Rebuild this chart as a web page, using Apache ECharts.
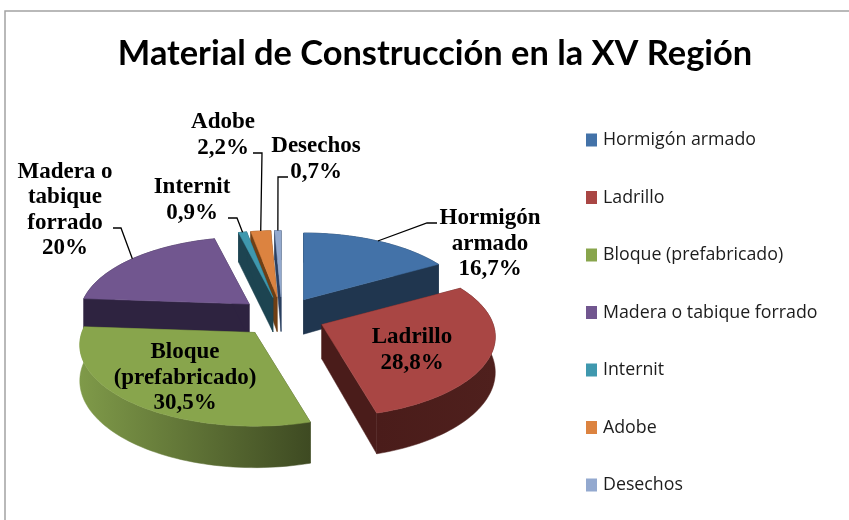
<!DOCTYPE html>
<html>
<head>
<meta charset="utf-8">
<script src="https://cdn.jsdelivr.net/npm/echarts@6/dist/echarts.min.js"></script>
<style>
  body { margin: 0; background: #fff; }
  #chart { width: 849px; height: 520px; }
</style>
</head>
<body>
<div id="chart"></div>
<script>
const categories = ["Hormigón armado", "Ladrillo", "Bloque (prefabricado)", "Madera o tabique forrado", "Internit", "Adobe", "Desechos"];
const values = [16.7, 28.8, 30.5, 20, 0.9, 2.2, 0.7];
const labelLines = [["Hormigón", "armado"], ["Ladrillo"], ["Bloque", "(prefabricado)"], ["Madera o", "tabique", "forrado"], ["Internit"], ["Adobe"], ["Desechos"]];

const topColors = ["#4372a8", "#a94644", "#88a54c", "#71568f", "#3f98ae", "#dc8340", "#93a9cf"];
const edgeColors = ["#20364f", "#4a1c1a", "#3f4a22", "#2e2340", "#1d4451", "#6f3f15", "#2b3f60"];
const wallLeft = ["#20364f", "#4a1c1a", "#7f9a49", "#2e2340", "#1d4451", "#6f3f15", "#2b3f60"];
const wallRight = ["#20364f", "#4f201d", "#3e4a22", "#2e2340", "#1d4451", "#6f3f15", "#2b3f60"];

// pie projection
const cx = 282, cy = 317, rx = 170, ry = 78, persp = 0.15, depth = 34.5;
const explodeX = 43, explodeY = 20, explodeDepth = 0.15;

// hand placed labels, [center x, center y]
const labelPos = [[490, 244], [412, 350], [185, 378], [65, 210], [192, 200], [223, 135], [316, 159]];
// leader line: start and elbow, the end sits on the slice rim
const leaders = [[[437, 223], [427, 223]], null, null, [[113, 228], [121, 228]], [[228, 218], [237, 218]], [[253, 153], [262, 153]], [[288, 177], [278, 177]]];

const total = values.reduce((a, b) => a + b, 0);
const toAngle = v => v / total * Math.PI * 2;

function sliceAngles(i) {
  const start = toAngle(values.slice(0, i).reduce((a, b) => a + b, 0));
  return [start, start + toAngle(values[i])];
}

function project(apex, theta, mid) {
  const y = -Math.cos(theta);
  const s = 1 / (1 - persp * (y - explodeDepth * Math.cos(mid)));
  return [apex[0] + rx * Math.sin(theta) * s, apex[1] + ry * y * s, s];
}

function percentText(v) {
  return String(v).replace(".", ",") + "%";
}

function renderSlice(i, value) {
  const [a0, a1] = sliceAngles(i);
  const mid = (a0 + a1) / 2;
  const apex = [cx + explodeX * Math.sin(mid), cy - explodeY * Math.cos(mid)];
  const down = (p, s) => [p[0], p[1] + depth * s];

  const arc = [];
  const steps = Math.max(4, Math.ceil((a1 - a0) / 0.03));
  for (let k = 0; k <= steps; k++) arc.push(project(apex, a0 + (a1 - a0) * k / steps, mid));

  const first = arc[0], last = arc[arc.length - 1];
  const children = [];
  const poly = (points, fill) => children.push({
    type: "polygon",
    shape: { points: points },
    style: { fill: fill, stroke: fill, lineWidth: 0.5 }
  });

  poly([apex, first, down(first, first[2]), down(apex, 1)], edgeColors[i]);
  poly([apex, last, down(last, last[2]), down(apex, 1)], edgeColors[i]);
  const wall = arc.map(p => [p[0], p[1]]).concat(arc.slice().reverse().map(p => down(p, p[2])));
  poly(wall, new echarts.graphic.LinearGradient(0, 0, 1, 0, [
    { offset: 0, color: wallLeft[i] },
    { offset: 1, color: wallRight[i] }
  ]));
  poly([apex].concat(arc.map(p => [p[0], p[1]])), topColors[i]);

  if (leaders[i]) {
    const end = project(apex, mid, mid);
    children.push({
      type: "polyline",
      shape: { points: [leaders[i][0], leaders[i][1], [end[0], end[1]]] },
      style: { stroke: "#000", lineWidth: 1.3, fill: null }
    });
  }

  children.push({
    type: "text",
    style: {
      text: labelLines[i].concat(percentText(value)).join("\n"),
      x: labelPos[i][0],
      y: labelPos[i][1],
      align: "center",
      verticalAlign: "middle",
      font: 'bold 23px "Liberation Serif"',
      lineHeight: 25.5,
      fill: "#000"
    }
  });
  return { type: "group", children: children };
}

// back slices first
const depthRank = categories.map((_, i) => {
  const [a0, a1] = sliceAngles(i);
  return -Math.cos((a0 + a1) / 2);
});

const chart = echarts.init(document.getElementById("chart"));
chart.setOption({
  animation: false,
  title: {
    text: "Material de Construcción en la XV Región",
    left: 430,
    top: 32,
    textAlign: "center",
    textStyle: { fontFamily: "Lato", fontWeight: "bold", fontSize: 34.4, color: "#000" }
  },
  legend: {
    orient: "vertical",
    left: 581,
    top: 126,
    itemWidth: 11,
    itemHeight: 13,
    itemGap: 39.5,
    icon: "rect",
    data: categories,
    textStyle: { fontFamily: "Open Sans", fontSize: 17.8, color: "#1c1c1c", padding: [0, 0, 0, 1] }
  },
  graphic: [{
    type: "polyline",
    shape: { points: [[5, 520], [5, 11], [849, 11]] },
    style: { stroke: "#a3a3a3", lineWidth: 1.5, fill: null }
  }],
  series: categories.map((name, i) => ({
    type: "custom",
    name: name,
    coordinateSystem: "none",
    z: 10 + depthRank[i],
    itemStyle: { color: topColors[i] },
    data: [values[i]],
    renderItem: (params, api) => renderSlice(i, api.value(0))
  }))
});
</script>
</body>
</html>
